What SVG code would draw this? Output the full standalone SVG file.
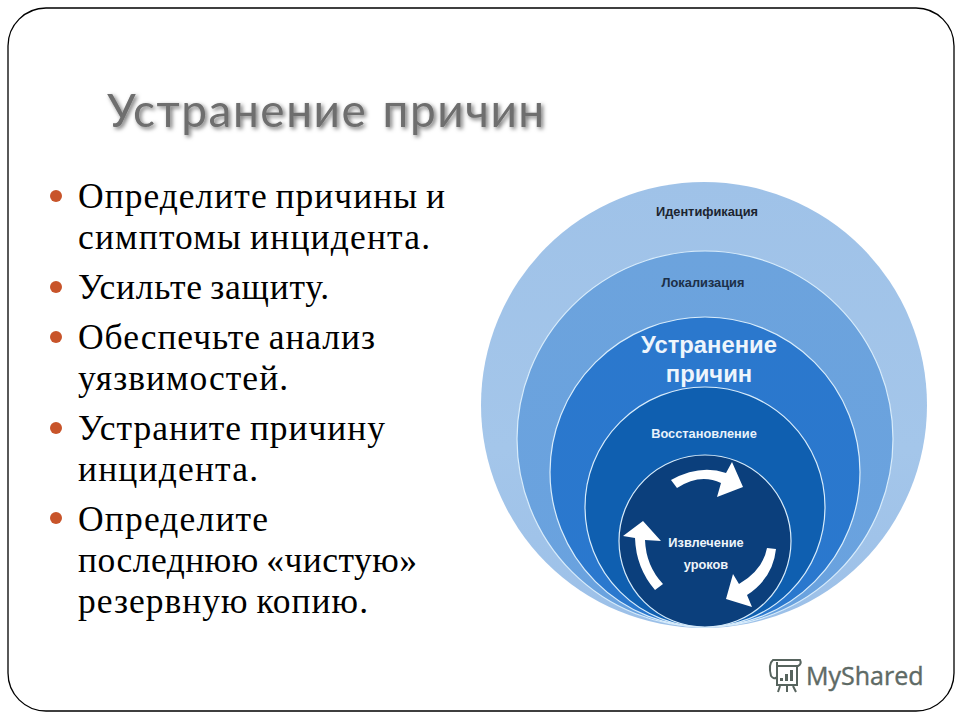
<svg xmlns="http://www.w3.org/2000/svg" width="960" height="720" viewBox="0 0 960 720">
<defs>
<linearGradient id="g1" x1="0" y1="0" x2="0" y2="1"><stop offset="0" stop-color="#9fc2e8"/><stop offset="0.6" stop-color="#a4c6ea"/><stop offset="1" stop-color="#9cc0e8"/></linearGradient>
<linearGradient id="g2" x1="0" y1="0" x2="0" y2="1"><stop offset="0" stop-color="#6ca3dd"/><stop offset="1" stop-color="#69a2df"/></linearGradient>
<linearGradient id="g3" x1="0" y1="0" x2="0" y2="1"><stop offset="0" stop-color="#2b78cd"/><stop offset="1" stop-color="#2a78ce"/></linearGradient>
<filter id="sh" x="-5%" y="-20%" width="110%" height="140%"><feDropShadow dx="2" dy="2" stdDeviation="2" flood-color="#000" flood-opacity="0.55"/></filter>
</defs>
<style>
.b{font-family:"Liberation Serif",serif;font-size:35.5px;letter-spacing:1px;word-spacing:-2px;fill:#000}
.c{stroke:#d8ecfb;stroke-width:1.2}
.s{font-family:"Liberation Sans",Arial,sans-serif;font-size:12.8px;font-weight:bold;text-anchor:middle}
.big{font-family:"Liberation Sans",Arial,sans-serif;font-size:23.8px;font-weight:bold;fill:#eef5fc;text-anchor:middle}
.dot{fill:#c8542a}
.ar{fill:#fff}
</style>
<rect width="960" height="720" fill="#fff"/>
<rect id="frame" x="8" y="8" width="946" height="703" rx="38" ry="38" fill="#fff" stroke="#000" stroke-width="1.3"/>
<text id="title" x="107" y="127" font-family="Lato,sans-serif" font-size="46" letter-spacing="1.5" word-spacing="2" fill="#6e6e6e" filter="url(#sh)">Устранение причин</text>
<g id="bullets">
<circle class="dot" cx="56" cy="196" r="6"/>
<circle class="dot" cx="56" cy="287" r="6"/>
<circle class="dot" cx="56" cy="337" r="6"/>
<circle class="dot" cx="56" cy="428" r="6"/>
<circle class="dot" cx="56" cy="518" r="6"/>
<text class="b" x="78" y="208" textLength="368">Определите причины и</text>
<text class="b" x="78" y="249" textLength="353">симптомы инцидента.</text>
<text class="b" x="78" y="299" textLength="252">Усильте защиту.</text>
<text class="b" x="78" y="349" textLength="298">Обеспечьте анализ</text>
<text class="b" x="78" y="390" textLength="211">уязвимостей.</text>
<text class="b" x="78" y="440" textLength="308">Устраните причину</text>
<text class="b" x="78" y="481" textLength="181">инцидента.</text>
<text class="b" x="78" y="531" textLength="191">Определите</text>
<text class="b" x="78" y="572" textLength="340">последнюю «чистую»</text>
<text class="b" x="78" y="613" textLength="291">резервную копию.</text>
</g>
<g id="node-1"><circle cx="704" cy="405" r="223" fill="url(#g1)"/><text class="s" x="707" y="216" fill="#1c2530">Идентификация</text></g>
<g id="node-2"><circle class="c" cx="705" cy="439" r="188" fill="url(#g2)"/><text class="s" x="703" y="287" fill="#1c2f48">Локализация</text></g>
<g id="node-3"><circle class="c" cx="705" cy="472" r="155" fill="url(#g3)"/><text class="big" x="709" y="353">Устранение</text><text class="big" x="709" y="382">причин</text></g>
<g id="node-4"><circle class="c" cx="705" cy="507" r="120" fill="#0f5fb0"/><text class="s" x="704" y="438" fill="#e8f2fb">Восстановление</text></g>
<g id="node-5"><circle class="c" cx="705" cy="541" r="86" fill="#0b3f7c"/>
<text class="s" x="706" y="547" fill="#eef4fa">Извлечение</text><text class="s" x="706" y="569" fill="#eef4fa">уроков</text></g>
<g id="connectors">
<path class="ar" d="M671 480 Q700 464 726 473 L732 462 L743 487 L717 497 L721 483 Q700 473 677 488Z"/>
<path class="ar" d="M767 548 L776 549 Q773 578 747 595 L752 607 L726 599 L733 574 L739 584 Q763 570 767 548Z"/>
<path class="ar" d="M663 584 L655 590 Q636 568 635 538 L623 536 L643 521 L661 541 L645 540 Q646 566 663 584Z"/>
</g>
<g id="logo">
<g fill="none" stroke="#57645e" stroke-width="2">
<path d="M771 676 Q768 664 773 660 H800 Q802 664 798 666 H777 M777 662 V685 H797 V666 M771 676 Q774 680 777 677"/>
<path d="M780 686 L778 692 M787 686 V692 M793 686 L796 692"/>
</g>
<rect x="780" y="678" width="3" height="3" fill="#57645e"/><rect x="785" y="674" width="3" height="7" fill="#57645e"/><rect x="790" y="670" width="3" height="11" fill="#57645e"/>
<text x="806" y="685" font-family="'Open Sans',sans-serif" font-size="25" fill="#5e6a65" stroke="#5e6a65" stroke-width="0.4">MyShared</text>
</g>
</svg>
